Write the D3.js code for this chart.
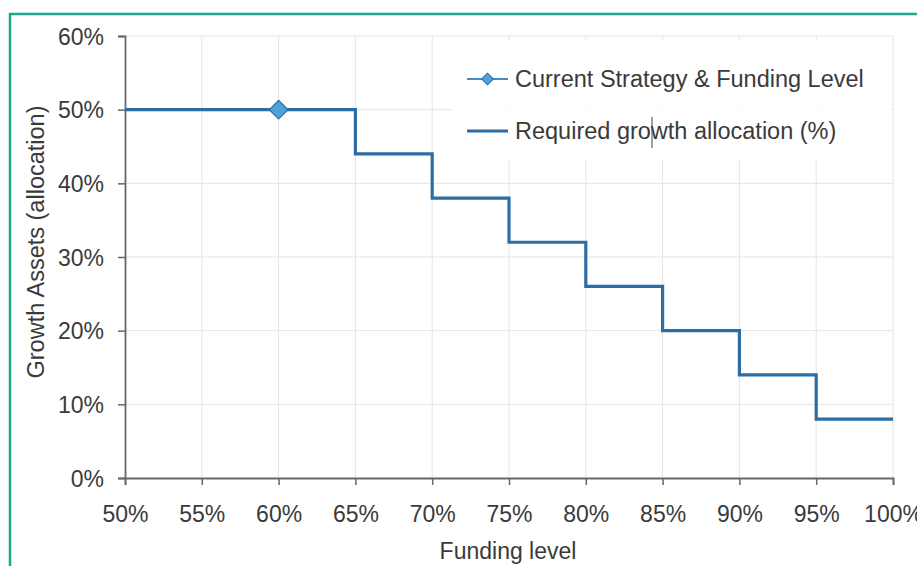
<!DOCTYPE html>
<html>
<head>
<meta charset="utf-8">
<script src="https://cdn.jsdelivr.net/npm/d3@7"></script>
<style>
  body { margin: 0; background: #fff; }
  text { font-family: "Liberation Sans", Arial, sans-serif; fill: #3a3a3a; }
</style>
</head>
<body>
<div id="chart"></div>
<script>
// funding level (%) where each step starts, and the required growth allocation (%)
var fundingLevels = [50, 65, 70, 75, 80, 85, 90, 95, 100];
var growthAlloc = [50, 44, 38, 32, 26, 20, 14, 8, 8];
// current strategy point
var currentFunding = [60];
var currentGrowth = [50];

var xTicks = [50, 55, 60, 65, 70, 75, 80, 85, 90, 95, 100];
var yTicks = [0, 10, 20, 30, 40, 50, 60];
var legendLabels = ["Current Strategy & Funding Level", "Required growth allocation (%)"];

var W = 917, H = 566;
var fs = "23px";
var svg = d3.select("#chart").append("svg").attr("width", W).attr("height", H);

// teal frame (runs off right and bottom edges)
svg.append("rect").attr("x", 10).attr("y", 14).attr("width", 960).attr("height", 600)
    .style("fill", "none").style("stroke", "#1aa98d").style("stroke-width", 2.5);

var x = d3.scaleLinear().domain([50, 100]).range([125, 893]);
var y = d3.scaleLinear().domain([0, 60]).range([478, 36]);

// grid
svg.append("g").selectAll("line").data(xTicks.slice(1)).enter().append("line")
    .attr("x1", function (d) { return x(d); }).attr("x2", function (d) { return x(d); })
    .attr("y1", y(60)).attr("y2", y(0))
    .style("stroke", "#e4e4e4").style("stroke-width", 1);
svg.append("g").selectAll("line").data(yTicks.slice(1)).enter().append("line")
    .attr("x1", x(50)).attr("x2", x(100))
    .attr("y1", function (d) { return y(d); }).attr("y2", function (d) { return y(d); })
    .style("stroke", "#e4e4e4").style("stroke-width", 1);

// legend box (white, over grid)
svg.append("rect").attr("x", 453).attr("y", 40).attr("width", 438).attr("height", 120)
    .style("fill", "#fff").style("fill-opacity", 0.85);

// axes
var xAxis = svg.append("g").attr("transform", "translate(0," + y(0) + ")")
    .call(d3.axisBottom(x).tickValues(xTicks).tickSize(7).tickPadding(21)
        .tickFormat(function (d) { return d + "%"; }));
var yAxis = svg.append("g").attr("transform", "translate(" + x(50) + ",0)")
    .call(d3.axisLeft(y).tickValues(yTicks).tickSize(7).tickPadding(14)
        .tickFormat(function (d) { return d + "%"; }));
[xAxis, yAxis].forEach(function (a) {
    a.select(".domain").style("stroke", "#666").style("stroke-width", 1.8);
    a.selectAll(".tick line").style("stroke", "#666").style("stroke-width", 1.5);
    a.selectAll(".tick text").style("font-size", fs).style("fill", "#3a3a3a")
        .style("font-family", "'Liberation Sans', Arial, sans-serif");
});
yAxis.selectAll(".tick text").attr("dy", "0.36em");

// axis titles
svg.append("text").attr("x", (x(50) + x(100)) / 2 - 1).attr("y", 559)
    .attr("text-anchor", "middle").style("font-size", fs).text("Funding level");
svg.append("text").attr("transform", "translate(44,242) rotate(-90)")
    .attr("text-anchor", "middle").style("font-size", "23.5px").text("Growth Assets (allocation)");

// step line
var stepData = fundingLevels.map(function (f, i) { return [f, growthAlloc[i]]; });
var line = d3.line().x(function (d) { return x(d[0]); }).y(function (d) { return y(d[1]); })
    .curve(d3.curveStepAfter);
svg.append("path").datum(stepData).attr("d", line)
    .style("fill", "none").style("stroke", "#2b6da6").style("stroke-width", 3.2);

// current strategy marker (square turned 45deg)
var sq = d3.symbol().type(d3.symbolSquare).size(175);
svg.selectAll(".cur").data(currentFunding).enter().append("path").attr("class", "cur")
    .attr("d", sq)
    .attr("transform", function (d, i) { return "translate(" + x(d) + "," + y(currentGrowth[i]) + ") rotate(45)"; })
    .style("fill", "#4fa2d6").style("stroke", "#2b6da6").style("stroke-width", 1.2);

// legend
var leg = svg.append("g").attr("transform", "translate(467,0)");
leg.append("line").attr("x1", 0).attr("x2", 41).attr("y1", 79).attr("y2", 79)
    .style("stroke", "#4a8cc0").style("stroke-width", 2);
leg.append("path").attr("d", d3.symbol().type(d3.symbolSquare).size(70))
    .attr("transform", "translate(20.5,79) rotate(45)")
    .style("fill", "#4fa2d6").style("stroke", "#2b6da6").style("stroke-width", 1);
leg.append("line").attr("x1", 0).attr("x2", 41).attr("y1", 131).attr("y2", 131)
    .style("stroke", "#2b6da6").style("stroke-width", 3);
leg.selectAll("text").data(legendLabels).enter().append("text")
    .attr("x", 48).attr("y", function (d, i) { return 87 + i * 52; })
    .style("font-size", "23.5px").text(function (d) { return d; });
// stray text caret seen in the source image
svg.append("line").attr("x1", 652).attr("x2", 652).attr("y1", 117).attr("y2", 148)
    .style("stroke", "#444").style("stroke-width", 1);
</script>
</body>
</html>
